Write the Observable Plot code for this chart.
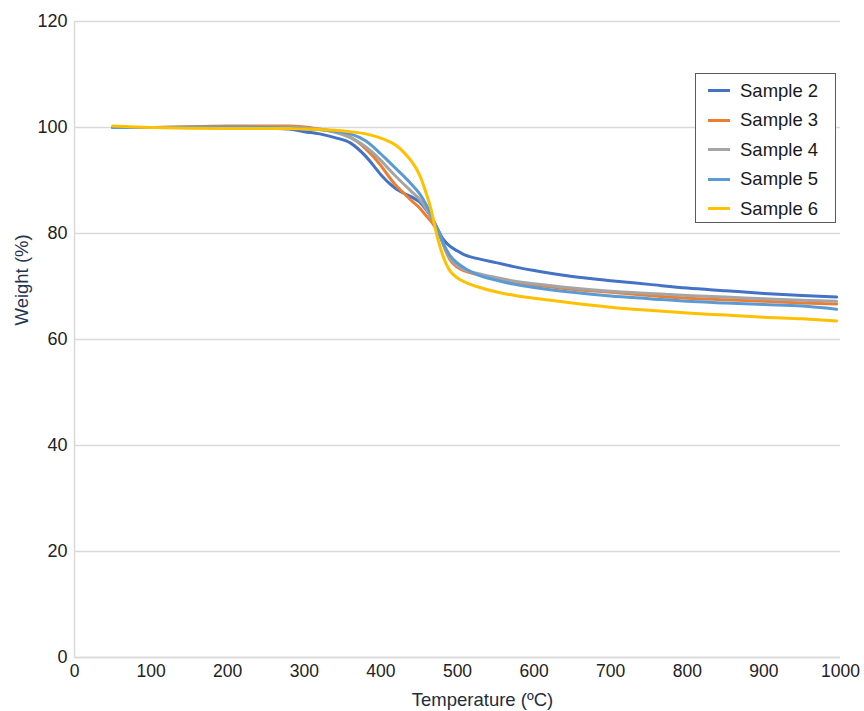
<!DOCTYPE html>
<html>
<head>
<meta charset="utf-8">
<script src="https://cdn.jsdelivr.net/npm/d3@7"></script>
<script src="https://cdn.jsdelivr.net/npm/@observablehq/plot@0.6"></script>
<style>
  html, body { margin: 0; padding: 0; background: #fff; }
  #wrap { position: relative; width: 864px; height: 711px; font-family: "Liberation Sans", Arial, sans-serif; }
  #legend {
    position: absolute; left: 695px; top: 73px; width: 141px; height: 150px;
    border: 1.5px solid #5a5a5a; background: #fff; box-sizing: border-box;
    padding-top: 2px;
  }
  .row { display: flex; align-items: center; height: 29.5px; }
  .sw { width: 22px; height: 3px; margin-left: 12px; margin-right: 10px; }
  .lab { font-size: 18.5px; color: #1a1a1a; white-space: nowrap; }
</style>
</head>
<body>
<div id="wrap"></div>
<script>
// Thermogravimetric curves: residual weight (%) against temperature (°C)
const temps = [50, 100, 200, 280, 300, 320, 340, 360, 380, 400, 410, 420, 430, 440, 450, 460, 465, 470, 475, 480, 485, 490, 500, 510, 525, 550, 575, 600, 650, 700, 750, 800, 850, 900, 950, 995];

const sample2 = [100.0, 100.0, 100.0, 99.7, 99.2, 98.8, 98.1, 97.1, 94.6, 91.1, 89.6, 88.4, 87.6, 86.9, 86.0, 84.3, 83.3, 82.0, 80.6, 79.2, 78.3, 77.6, 76.7, 75.9, 75.3, 74.5, 73.7, 73.0, 71.9, 71.1, 70.4, 69.7, 69.2, 68.7, 68.3, 68.0];
const sample3 = [100.0, 100.0, 100.3, 100.3, 100.1, 99.7, 99.2, 98.2, 96.0, 92.8, 90.8, 89.0, 87.6, 86.2, 84.9, 83.2, 82.4, 81.4, 80.2, 78.5, 76.6, 75.1, 73.6, 72.9, 72.3, 71.5, 70.8, 70.3, 69.5, 68.9, 68.3, 67.8, 67.5, 67.2, 66.9, 66.7];
const sample4 = [100.0, 100.0, 100.1, 100.1, 99.9, 99.6, 99.1, 98.1, 96.4, 93.8, 92.2, 90.7, 89.3, 87.9, 86.5, 84.5, 83.2, 81.8, 80.4, 78.6, 76.8, 75.4, 73.9, 73.1, 72.5, 71.7, 71.0, 70.5, 69.7, 69.1, 68.7, 68.3, 68.0, 67.7, 67.4, 67.2];
const sample5 = [100.0, 100.0, 100.1, 99.9, 99.7, 99.6, 99.3, 98.8, 97.5, 95.0, 93.6, 92.2, 90.8, 89.3, 87.6, 85.2, 83.7, 82.0, 80.4, 78.6, 77.1, 75.9, 74.4, 73.4, 72.3, 71.2, 70.4, 69.8, 68.9, 68.2, 67.7, 67.2, 66.9, 66.6, 66.3, 65.7];
const sample6 = [100.3, 100.0, 99.8, 99.8, 99.7, 99.6, 99.5, 99.2, 98.8, 98.0, 97.4, 96.6, 95.3, 93.6, 91.2, 87.2, 84.8, 81.6, 78.6, 76.2, 74.3, 73.0, 71.6, 70.8, 70.0, 69.0, 68.3, 67.8, 66.9, 66.1, 65.5, 65.0, 64.6, 64.2, 63.9, 63.5];

const seriesNames = ["Sample 2", "Sample 3", "Sample 4", "Sample 5", "Sample 6"];
const seriesColors = ["#4472C4", "#ED7D31", "#A5A5A5", "#5B9BD5", "#FFC000"];
const seriesValues = [sample2, sample3, sample4, sample5, sample6];

const xTicks = [0, 100, 200, 300, 400, 500, 600, 700, 800, 900, 1000];
const yTicks = [0, 20, 40, 60, 80, 100, 120];

const rows = seriesNames.flatMap((name, i) =>
  temps.map((t, j) => ({series: name, temp: t, weight: seriesValues[i][j]}))
);

const gridColor = "#d9d9d9";

const chart = Plot.plot({
  width: 864,
  height: 711,
  marginLeft: 74,
  marginRight: 24,
  marginTop: 21,
  marginBottom: 54,
  style: {fontFamily: "'Liberation Sans', Arial, sans-serif", background: "#fff"},
  x: {domain: [0, 1000]},
  y: {domain: [0, 120]},
  color: {domain: seriesNames, range: seriesColors},
  marks: [
    Plot.gridY(yTicks, {stroke: gridColor, strokeOpacity: 1, strokeWidth: 1.3}),
    Plot.ruleX([0], {stroke: gridColor, strokeWidth: 1.5}),
    Plot.ruleY([0], {stroke: gridColor, strokeWidth: 1.5}),
    Plot.axisY(yTicks, {tickSize: 0, tickPadding: 7, fontSize: 18, fill: "#222", label: null}),
    Plot.axisX(xTicks, {tickSize: 0, tickPadding: 7, fontSize: 17.5, fill: "#222", label: null, tickFormat: d => String(d)}),
    Plot.line(rows, {x: "temp", y: "weight", z: "series", stroke: "series", strokeWidth: 3, curve: "monotone-x"}),
    Plot.text(["Weight (%)"], {frameAnchor: "left", rotate: -90, dx: -52, dy: -14, fontSize: 18.5, fill: "#1f3550"}),
    Plot.text(["Temperature (\u00BAC)"], {frameAnchor: "bottom", dx: 25, dy: 48, fontSize: 18.5, fill: "#1f2d3d"})
  ]
});

const wrap = document.getElementById("wrap");
wrap.appendChild(chart);

// Legend box in the upper right of the plot area
const legend = document.createElement("div");
legend.id = "legend";
seriesNames.forEach((name, i) => {
  const row = document.createElement("div");
  row.className = "row";
  const sw = document.createElement("div");
  sw.className = "sw";
  sw.style.background = seriesColors[i];
  const lab = document.createElement("span");
  lab.className = "lab";
  lab.textContent = name;
  row.appendChild(sw);
  row.appendChild(lab);
  legend.appendChild(row);
});
wrap.appendChild(legend);
</script>
</body>
</html>
